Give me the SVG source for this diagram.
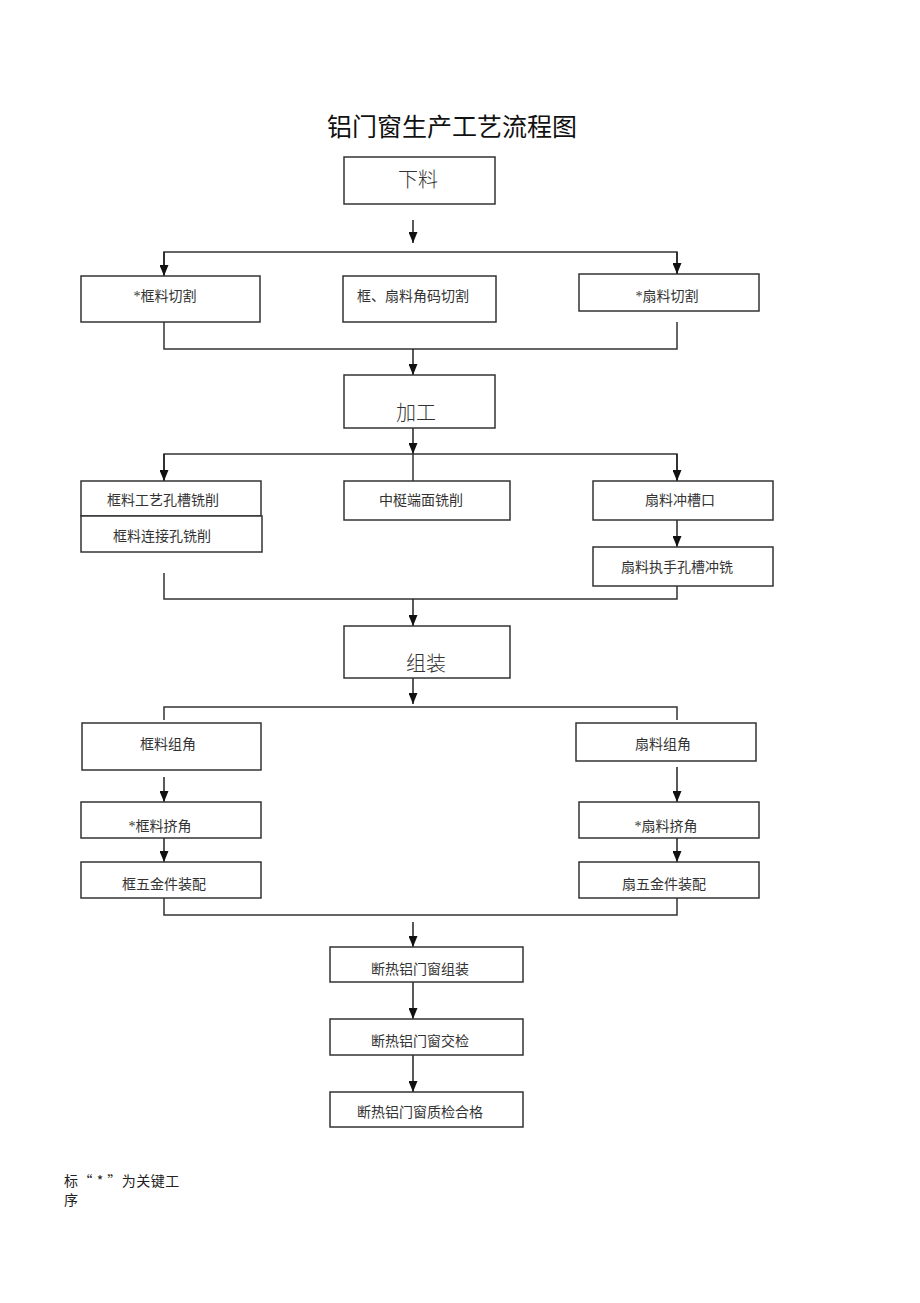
<svg xmlns="http://www.w3.org/2000/svg" width="920" height="1303" viewBox="0 0 920 1303">
<defs>
<marker id="arr" markerWidth="9" markerHeight="11" refX="4.5" refY="11" orient="0" markerUnits="userSpaceOnUse" viewBox="0 0 9 11">
<path d="M0,0 L9,0 L4.5,11 Z" fill="#111"/>
</marker>
</defs>
<style>
.box{fill:#fff;stroke:#333;stroke-width:1.5}
.t{font-family:"Liberation Serif","Noto Sans CJK SC",serif;font-size:14px;fill:#333;text-anchor:middle;dominant-baseline:central}
.big{font-family:"Noto Sans CJK SC",sans-serif;font-size:20px;fill:#333;text-anchor:middle;dominant-baseline:central;font-weight:300}
.ln{fill:none;stroke:#333;stroke-width:1.5}
.ar{fill:none;stroke:#222;stroke-width:1.5;marker-end:url(#arr)}
</style>
<rect width="920" height="1303" fill="#fff"/>
<text x="452" y="125" font-family="Noto Sans CJK SC,sans-serif" font-size="25" text-anchor="middle" dominant-baseline="central" fill="#111">铝门窗生产工艺流程图</text>

<g id="connectors">
<path class="ar" d="M413,220 V243"/>
<path class="ln" d="M164,275 V252 H677 V275"/>
<path class="ar" d="M164,252 V276"/>
<path class="ar" d="M677,252 V274"/>
<path class="ln" d="M164,322 V349 H677 V322"/>
<path class="ar" d="M413,349 V375"/>
<path class="ar" d="M413,428 V454"/>
<path class="ln" d="M164,481 V454 H677 V481"/>
<path class="ar" d="M164,454 V481"/>
<path class="ar" d="M677,454 V481"/>
<path class="ln" d="M413,454 V481"/>
<path class="ar" d="M677,520 V547"/>
<path class="ln" d="M164,573 V599 H677 V586"/>
<path class="ar" d="M413,599 V626"/>
<path class="ar" d="M413,678 V704"/>
<path class="ln" d="M164,720 V707 H677 V720"/>
<path class="ar" d="M164,777 V802"/>
<path class="ar" d="M677,767 V802"/>
<path class="ar" d="M164,838 V862"/>
<path class="ar" d="M677,838 V862"/>
<path class="ln" d="M164,898 V915 H677 V898"/>
<path class="ar" d="M413,922 V947"/>
<path class="ar" d="M413,982 V1019"/>
<path class="ar" d="M413,1055 V1092"/>
</g>

<g id="n-xialiao"><rect class="box" x="344" y="157" width="151" height="47"/><text class="big" x="418" y="178">下料</text></g>
<g id="n-kuang-qiege"><rect class="box" x="81" y="276" width="179" height="46"/><text class="t" x="165" y="296">*框料切割</text></g>
<g id="n-jiaoma"><rect class="box" x="343" y="276" width="153" height="46"/><text class="t" x="413" y="296">框、扇料角码切割</text></g>
<g id="n-shan-qiege"><rect class="box" x="579" y="274" width="180" height="37"/><text class="t" x="667" y="296">*扇料切割</text></g>
<g id="n-jiagong"><rect class="box" x="344" y="375" width="151" height="53"/><text class="big" x="416" y="411">加工</text></g>
<g id="n-kuang-kongcao"><rect class="box" x="81" y="481" width="180" height="35"/><text class="t" x="163" y="500">框料工艺孔槽铣削</text></g>
<g id="n-kuang-lianjie"><rect class="box" x="81" y="516" width="181" height="36"/><text class="t" x="162" y="536">框料连接孔铣削</text></g>
<g id="n-zhongting"><rect class="box" x="344" y="481" width="166" height="39"/><text class="t" x="421" y="500">中梃端面铣削</text></g>
<g id="n-shan-chongcao"><rect class="box" x="593" y="481" width="180" height="39"/><text class="t" x="680" y="500">扇料冲槽口</text></g>
<g id="n-shan-zhishou"><rect class="box" x="593" y="547" width="180" height="39"/><text class="t" x="677" y="567">扇料执手孔槽冲铣</text></g>
<g id="n-zuzhuang"><rect class="box" x="344" y="626" width="166" height="52"/><text class="big" x="426" y="662">组装</text></g>
<g id="n-kuang-zujiao"><rect class="box" x="82" y="723" width="179" height="47"/><text class="t" x="168" y="744">框料组角</text></g>
<g id="n-shan-zujiao"><rect class="box" x="576" y="723" width="180" height="38"/><text class="t" x="663" y="744">扇料组角</text></g>
<g id="n-kuang-jijiao"><rect class="box" x="81" y="802" width="180" height="36"/><text class="t" x="160" y="826">*框料挤角</text></g>
<g id="n-shan-jijiao"><rect class="box" x="579" y="802" width="180" height="36"/><text class="t" x="666" y="826">*扇料挤角</text></g>
<g id="n-kuang-wujin"><rect class="box" x="81" y="862" width="180" height="36"/><text class="t" x="164" y="884">框五金件装配</text></g>
<g id="n-shan-wujin"><rect class="box" x="579" y="862" width="180" height="36"/><text class="t" x="664" y="884">扇五金件装配</text></g>
<g id="n-duanre-zuzhuang"><rect class="box" x="330" y="947" width="193" height="35"/><text class="t" x="420" y="969">断热铝门窗组装</text></g>
<g id="n-duanre-jiaojian"><rect class="box" x="330" y="1019" width="193" height="36"/><text class="t" x="420" y="1041">断热铝门窗交检</text></g>
<g id="n-duanre-zhijian"><rect class="box" x="330" y="1092" width="193" height="35"/><text class="t" x="420" y="1112">断热铝门窗质检合格</text></g>

<g id="note" font-family="Noto Sans CJK SC,sans-serif" font-size="14" fill="#222">
<text x="64" y="1186" letter-spacing="0.5">标“ * ”为关键工</text>
<text x="64" y="1205">序</text>
</g>
</svg>
